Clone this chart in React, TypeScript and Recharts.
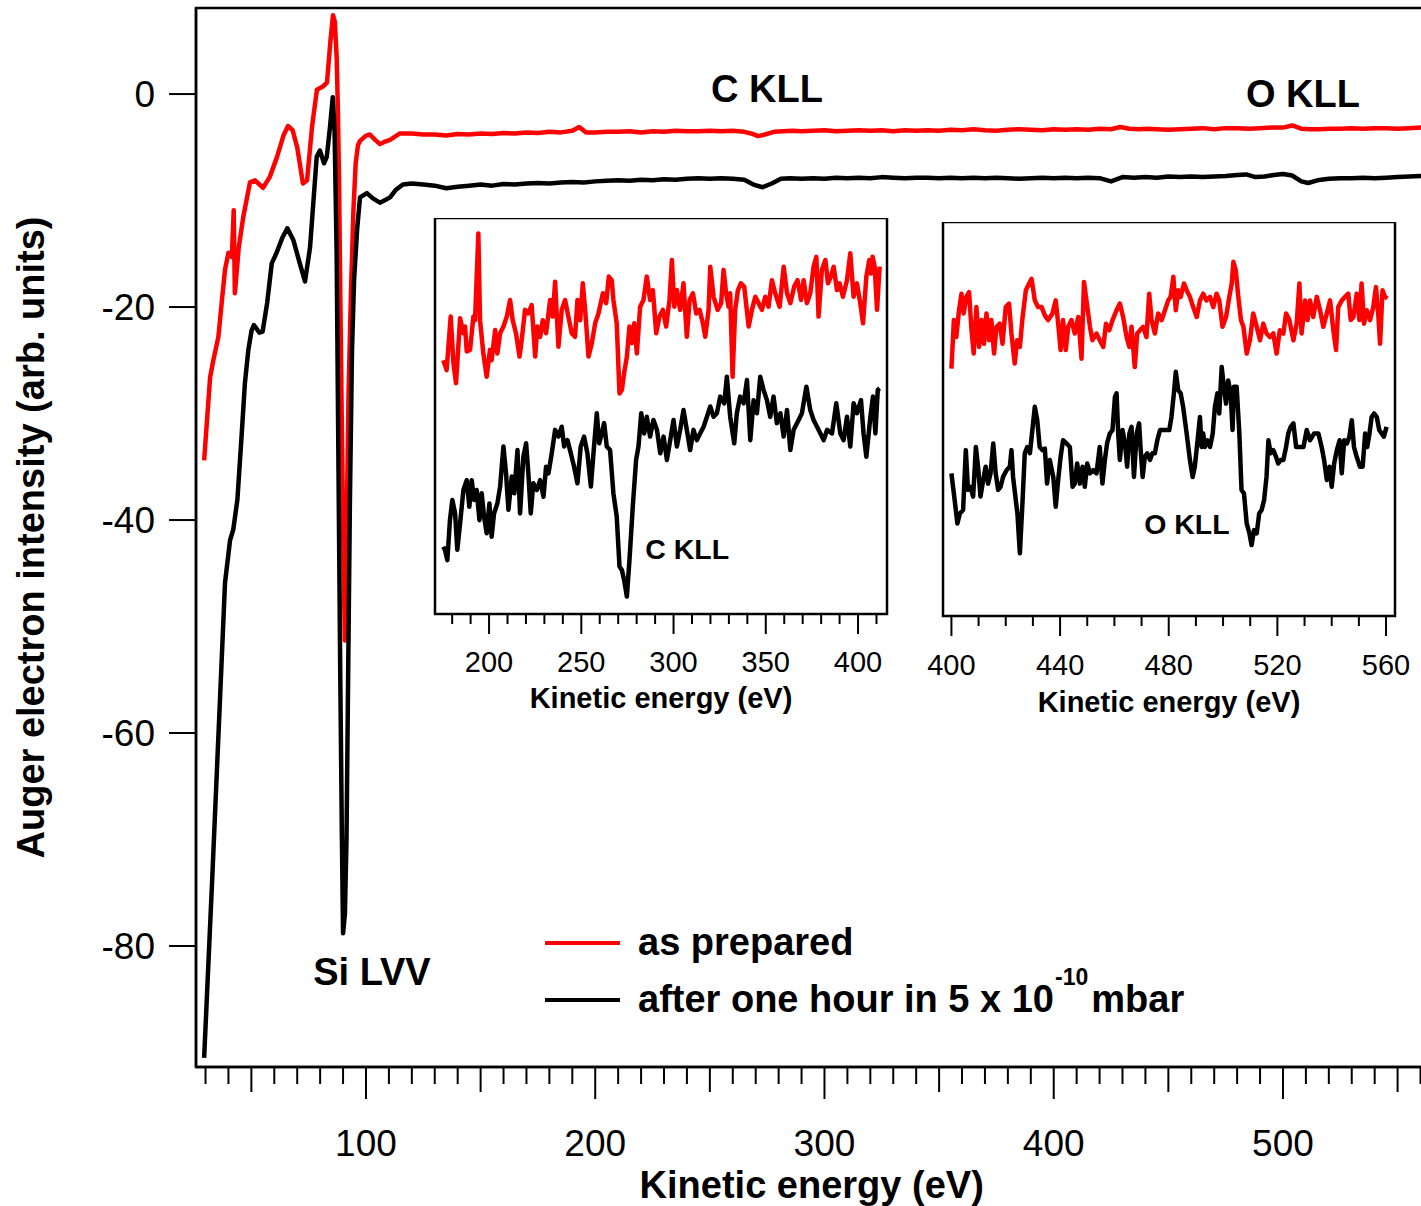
import { LineChart, Line, XAxis, YAxis, ReferenceArea, ReferenceDot, Legend } from 'recharts'

const FONT = '"Liberation Sans", Arial, Helvetica, sans-serif'
const RED = '#ff0000'
const BLACK = '#000000'

// [kinetic energy (eV), intensity (arb. units)]
const siPrepared = [
  [29.4, -34.4], [32.0, -26.6], [33.4, -25.0], [35.6, -22.8], [37.2, -19.3], [38.5, -16.5], [40.0, -14.9],
  [41.5, -15.3], [42.3, -10.9], [42.8, -18.7], [44.5, -14.4], [46.5, -11.5], [49.4, -8.3], [51.6, -8.1],
  [55.1, -8.8], [58.0, -7.8], [61.2, -5.9], [64.0, -3.9], [66.0, -3.0], [68.0, -3.4], [70.0, -5.0],
  [72.5, -8.4], [74.3, -8.1], [76.5, -3.0], [78.6, 0.4], [81.2, 0.7], [83.0, 1.1], [84.5, 5.0], [85.6, 7.4],
  [86.4, 6.8], [87.2, 3.5], [87.8, -2], [88.3, -9], [88.8, -19], [89.4, -30], [90.1, -42], [90.8, -51.3],
  [91.5, -42], [92.4, -28], [93.4, -19], [94.5, -11], [95.5, -6.5], [96.5, -4.8], [97.4, -4.4], [100, -3.9],
  [101.7, -3.8], [104, -4.3], [106.1, -4.7], [108, -4.5], [110.5, -4.3], [114.8, -3.7], [120, -3.7], [125, -3.8],
]
const plateauPrepared = [
  [130, -3.8], [135, -3.9], [140, -3.75], [145, -3.8], [150, -3.7], [155, -3.75], [160, -3.65], [165, -3.7],
  [170, -3.6], [175, -3.65], [180, -3.55], [185, -3.6], [190, -3.45], [193, -3.1], [196, -3.6], [200, -3.6],
  [205, -3.55], [210, -3.55], [215, -3.5], [220, -3.6], [225, -3.5], [230, -3.55], [235, -3.45], [240, -3.5],
  [245, -3.5], [250, -3.45], [255, -3.5], [260, -3.45], [265, -3.55], [268, -3.7], [271, -3.95], [274, -3.8],
  [278, -3.55], [282, -3.5], [286, -3.45], [290, -3.5], [295, -3.45], [300, -3.4], [305, -3.5], [310, -3.45],
  [315, -3.4], [320, -3.45], [325, -3.4], [330, -3.5], [335, -3.4], [340, -3.45], [345, -3.4], [350, -3.45],
  [355, -3.35], [360, -3.4], [365, -3.3], [370, -3.4], [375, -3.45], [380, -3.35], [385, -3.3], [390, -3.35],
  [395, -3.4], [400, -3.3], [405, -3.35], [410, -3.3], [415, -3.35], [420, -3.25], [425, -3.3], [429, -3.1],
  [433, -3.25], [437, -3.3], [441, -3.25], [445, -3.3], [450, -3.35], [455, -3.3], [460, -3.25], [465, -3.2],
  [470, -3.3], [475, -3.2], [480, -3.2], [485, -3.25], [490, -3.2], [495, -3.15], [500, -3.15], [504, -2.95],
  [508, -3.25], [512, -3.3], [516, -3.3], [520, -3.25], [525, -3.25], [530, -3.2], [535, -3.25], [540, -3.2],
  [545, -3.2], [550, -3.25], [555, -3.2], [560, -3.15], [565, -3.2],
]

const siExposed = [
  [29.4, -90.5], [32.9, -73.8], [36.3, -56.9], [38.5, -45.9], [40.7, -41.9], [42.1, -40.9], [43.9, -38.1],
  [45.8, -31.9], [47.2, -27.1], [48.7, -24.0], [50.1, -22.2], [51.1, -21.7], [53.5, -22.4], [54.9, -22.3],
  [56.9, -19.6], [58.9, -15.9], [61.0, -14.9], [63.5, -13.5], [65.7, -12.6], [68.3, -13.7], [71.0, -15.8],
  [73.4, -17.6], [75.6, -14.4], [78.5, -5.9], [79.9, -5.3], [81.7, -6.5], [82.9, -5.9], [84.3, -3.1],
  [85.5, -0.3], [86.3, -3.5], [87.2, -15], [88.0, -35], [88.8, -55], [89.5, -70], [90.0, -78.8], [90.8, -77],
  [91.5, -70], [92.1, -57], [93.0, -38], [93.9, -24], [94.8, -17.5], [96.1, -12.8], [97.4, -9.7], [100.4, -9.3],
  [103, -9.8], [106.1, -10.2], [108, -10.0], [110.5, -9.7], [113, -9.0], [116.1, -8.5], [120, -8.4], [125, -8.5],
]
const plateauExposed = [
  [130, -8.6], [135, -8.85], [140, -8.7], [145, -8.6], [150, -8.5], [155, -8.6], [160, -8.45], [165, -8.5],
  [170, -8.4], [175, -8.35], [180, -8.4], [185, -8.3], [190, -8.25], [195, -8.3], [200, -8.2], [205, -8.15],
  [210, -8.1], [215, -8.15], [220, -8.05], [225, -8.1], [230, -8.0], [235, -8.05], [240, -7.95], [245, -7.9],
  [250, -7.95], [255, -7.9], [260, -7.95], [265, -8.05], [269, -8.5], [273, -8.75], [277, -8.4], [281, -7.95],
  [285, -7.9], [290, -7.95], [295, -7.9], [300, -7.95], [305, -7.85], [310, -7.9], [315, -7.85], [320, -7.9],
  [325, -7.8], [330, -7.85], [335, -7.9], [340, -7.85], [345, -7.85], [350, -7.9], [355, -7.85], [360, -7.9],
  [365, -7.85], [370, -7.9], [375, -7.85], [380, -7.9], [385, -7.95], [390, -7.9], [395, -7.85], [400, -7.9],
  [405, -7.85], [410, -7.9], [415, -7.85], [420, -7.9], [425, -8.2], [430, -7.8], [435, -7.85], [440, -7.8],
  [445, -7.85], [450, -7.75], [455, -7.8], [460, -7.75], [465, -7.8], [470, -7.75], [475, -7.7], [480, -7.6],
  [484, -7.55], [488, -7.8], [492, -7.75], [496, -7.6], [500, -7.5], [504, -7.65], [508, -8.2], [511, -8.35],
  [515, -8.1], [520, -7.95], [525, -7.9], [530, -7.9], [535, -7.85], [540, -7.9], [545, -7.85], [550, -7.8],
  [555, -7.75], [560, -7.7], [565, -7.75],
]

// insets: intensity rescaled to 0..100 of the inset box
const cPrepared = [
  [175.2, 64.1], [177.0, 61.6], [179.2, 75.1], [180.7, 63.3], [182.1, 58.3], [184.3, 74.7], [186.1, 70.9], [187.0, 72.6],
  [187.9, 66.3], [189.7, 66.7], [191.5, 75.1], [192.4, 74.2], [194.2, 96.1], [195.1, 74.2], [196.9, 65.8], [198.7, 59.9],
  [200.5, 66.7], [201.4, 64.1], [203.3, 71.7], [204.5, 65.8], [206.0, 70.9], [207.8, 72.6], [209.6, 75.1], [211.4, 79.3],
  [212.8, 74.2], [214.6, 70.9], [216.5, 65.0], [217.7, 69.2], [219.5, 76.8], [221.3, 75.9], [223.1, 78.0], [225.0, 65.0],
  [226.2, 72.6], [227.7, 70.0], [229.1, 74.2], [230.9, 70.9], [233.1, 79.3], [234.5, 75.1], [235.8, 83.9], [237.6, 67.5],
  [239.4, 76.8], [241.2, 79.3], [243.0, 75.1], [244.8, 70.9], [246.6, 70.0], [247.9, 79.3], [249.4, 74.2], [250.8, 83.5],
  [252.1, 76.8], [253.9, 65.0], [255.7, 68.4], [257.5, 73.4], [259.3, 75.9], [261.7, 81.0], [263.5, 78.5], [264.9, 85.2],
  [266.5, 84.3], [267.4, 79.3], [269.2, 73.4], [270.7, 55.7], [272.0, 56.6], [273.2, 60.8], [274.7, 65.0], [276.1, 72.6],
  [277.4, 68.4], [278.7, 73.4], [280.1, 65.8], [281.9, 77.6], [283.7, 79.3], [285.5, 85.2], [287.3, 79.3], [288.8, 81.8],
  [290.6, 70.9], [292.4, 75.1], [294.2, 76.8], [296.0, 72.6], [297.8, 79.3], [299.1, 89.4], [300.4, 77.6], [301.8, 81.8],
  [303.6, 76.8], [305.4, 83.5], [307.2, 70.0], [308.7, 79.3], [310.5, 81.0], [312.3, 75.9], [314.1, 76.8], [315.9, 73.4],
  [317.2, 70.0], [319.0, 76.8], [319.9, 87.7], [321.7, 80.1], [323.9, 76.8], [325.8, 78.5], [327.1, 86.9], [328.5, 81.0],
  [329.8, 77.6], [330.7, 81.0], [332.0, 59.9], [333.4, 76.8], [334.9, 81.8], [336.5, 83.5], [338.3, 82.7], [340.7, 72.6],
  [342.5, 76.8], [344.3, 80.1], [346.1, 78.5], [347.9, 76.8], [349.7, 80.1], [351.5, 77.6], [353.3, 84.3], [355.1, 81.0],
  [357.5, 77.6], [359.7, 87.7], [361.5, 81.0], [363.3, 78.5], [365.4, 82.7], [367.2, 84.3], [369.1, 79.3], [370.5, 84.3],
  [372.3, 78.5], [374.1, 81.0], [375.9, 87.7], [377.4, 90.2], [378.6, 75.1], [380.4, 86.9], [382.3, 89.4], [383.7, 83.5],
  [385.3, 85.2], [386.8, 87.7], [388.6, 81.8], [390.0, 83.5], [391.8, 80.1], [394.0, 84.3], [395.8, 91.1], [397.6, 80.1],
  [399.4, 83.5], [401.2, 78.5], [402.7, 73.4], [404.5, 85.2], [406.1, 89.4], [407.0, 86.0], [407.9, 90.2], [409.0, 87.7],
  [410.3, 76.8], [411.7, 87.7],
]
const cExposed = [
  [175.2, 17.0], [176.1, 16.2], [177.4, 13.6], [178.8, 23.7], [180.1, 28.8], [181.6, 25.4], [182.8, 16.2], [184.3, 22.9],
  [186.1, 31.3], [187.9, 33.8], [189.3, 27.1], [190.6, 33.8], [191.9, 28.8], [193.3, 31.3], [194.8, 23.7], [196.0, 30.5],
  [197.3, 24.6], [198.7, 20.4], [200.2, 27.9], [201.4, 19.5], [202.7, 25.4], [204.5, 27.9], [206.0, 32.2], [207.8, 42.3],
  [209.2, 35.5], [210.5, 26.3], [212.3, 34.7], [213.7, 30.5], [215.4, 41.4], [216.8, 25.4], [218.6, 39.7], [220.1, 43.1],
  [221.3, 35.5], [222.6, 25.4], [224.0, 33.0], [225.9, 31.3], [227.7, 33.8], [229.5, 29.6], [230.9, 37.2], [232.2, 35.5],
  [234.0, 40.6], [235.8, 46.5], [237.6, 44.8], [239.4, 47.3], [240.7, 42.3], [242.5, 43.9], [244.3, 40.6], [246.1, 37.2],
  [247.9, 33.0], [249.7, 42.3], [251.5, 44.8], [253.3, 40.6], [255.2, 32.2], [256.6, 40.6], [258.4, 50.7], [259.7, 43.1],
  [261.1, 45.6], [262.4, 48.2], [263.8, 42.3], [265.6, 41.4], [267.4, 30.5], [269.2, 24.6], [270.7, 12.0], [272.0, 11.1],
  [273.2, 8.6], [274.7, 4.4], [276.1, 13.6], [277.9, 27.1], [279.7, 38.9], [281.0, 42.3], [282.5, 50.7], [284.1, 45.6],
  [285.5, 49.8], [287.3, 44.8], [289.1, 49.0], [291.0, 46.5], [292.8, 40.6], [294.6, 44.8], [296.4, 38.9], [298.2, 43.9],
  [300.0, 49.0], [301.8, 42.3], [303.6, 46.5], [305.4, 51.5], [307.2, 46.5], [309.0, 41.4], [310.8, 46.5], [312.6, 43.9],
  [314.4, 45.6], [316.3, 47.3], [318.1, 49.8], [319.9, 52.4], [321.7, 49.8], [323.5, 50.7], [325.3, 54.9], [327.5, 53.2],
  [328.9, 59.9], [330.7, 49.8], [332.9, 43.1], [334.3, 50.7], [336.1, 54.9], [338.0, 53.2], [339.8, 59.1], [341.6, 43.9],
  [343.4, 54.0], [345.2, 50.7], [347.0, 59.9], [348.8, 56.6], [350.6, 54.0], [352.4, 49.8], [354.2, 54.9], [356.0, 48.2],
  [357.9, 50.7], [359.7, 44.8], [361.5, 51.5], [363.3, 41.4], [365.1, 46.5], [367.8, 49.0], [369.6, 50.7], [372.0, 57.4],
  [374.1, 51.5], [375.9, 49.0], [378.6, 46.5], [381.4, 43.9], [383.2, 46.5], [385.9, 45.6], [388.2, 53.2], [390.4, 45.6],
  [392.2, 43.9], [394.0, 49.8], [395.8, 42.3], [397.6, 53.2], [399.4, 50.7], [401.6, 54.0], [403.0, 45.6], [404.5, 39.7],
  [406.7, 49.8], [408.1, 54.9], [409.4, 45.6], [410.7, 56.6], [411.7, 57.0],
]

const oPrepared = [
  [400.0, 62.8], [400.9, 75.1], [401.8, 70.8], [402.8, 77.6], [403.7, 81.8], [404.5, 76.8], [405.5, 81.0], [406.5, 82.2],
  [407.4, 72.5], [408.2, 66.6], [409.2, 78.4], [410.2, 68.3], [411.1, 75.1], [412.0, 69.1], [412.9, 76.8], [413.9, 70.0],
  [414.7, 75.1], [415.7, 66.6], [416.6, 73.4], [417.8, 74.2], [418.8, 69.1], [420.0, 78.4], [421.2, 79.3], [422.1, 71.7],
  [423.3, 64.1], [424.2, 70.0], [425.2, 68.3], [426.2, 75.9], [427.4, 82.7], [428.6, 84.4], [429.5, 85.6], [430.7, 80.1],
  [431.9, 78.4], [433.2, 78.4], [434.4, 76.3], [435.6, 75.1], [437.2, 76.8], [438.4, 80.1], [439.3, 74.2], [440.2, 67.5],
  [441.1, 75.1], [442.1, 67.5], [443.0, 73.4], [444.2, 75.1], [445.4, 71.7], [446.7, 75.9], [447.9, 65.3], [448.8, 84.8],
  [449.7, 80.1], [451.0, 73.4], [451.9, 70.0], [453.4, 71.7], [454.6, 70.0], [455.9, 68.3], [456.9, 74.2], [458.1, 72.5],
  [459.3, 75.1], [460.8, 77.6], [462.0, 79.3], [463.2, 75.9], [464.5, 70.8], [465.5, 68.3], [466.3, 73.4], [467.5, 63.2],
  [468.4, 71.7], [469.4, 72.5], [470.6, 73.4], [471.8, 70.8], [472.8, 81.8], [473.7, 75.1], [474.9, 71.7], [476.1, 76.8],
  [477.4, 75.1], [478.6, 77.6], [479.8, 80.1], [480.7, 81.0], [481.7, 86.1], [482.6, 77.6], [483.5, 82.7], [484.4, 81.0],
  [485.6, 84.4], [486.6, 82.7], [487.8, 81.0], [489.0, 78.4], [490.3, 75.9], [491.5, 80.1], [492.7, 81.8], [493.9, 80.1],
  [495.2, 81.0], [496.4, 78.4], [497.6, 81.8], [498.6, 80.1], [499.8, 73.4], [501.1, 75.9], [502.3, 81.0], [503.2, 84.4],
  [503.8, 89.9], [504.7, 87.7], [505.6, 81.0], [506.6, 75.1], [507.5, 73.4], [508.7, 66.6], [509.9, 70.0], [511.1, 76.8],
  [512.4, 73.4], [513.6, 70.0], [514.8, 74.2], [516.0, 71.7], [517.3, 70.8], [518.5, 71.7], [519.7, 66.6], [520.9, 72.5],
  [522.2, 71.7], [523.2, 76.8], [524.4, 75.1], [525.9, 70.0], [527.1, 74.2], [528.1, 84.4], [528.9, 71.7], [530.2, 80.1],
  [531.1, 75.1], [532.0, 80.1], [533.2, 75.9], [534.5, 81.0], [535.7, 77.6], [536.9, 73.4], [538.2, 76.8], [539.4, 80.1],
  [540.6, 72.5], [541.6, 67.5], [542.4, 78.4], [543.7, 80.1], [544.9, 81.0], [546.1, 81.8], [547.0, 75.1], [548.0, 75.9],
  [549.2, 81.8], [550.2, 75.1], [551.0, 84.4], [551.9, 74.2], [552.9, 77.6], [554.1, 75.1], [555.3, 78.4], [556.3, 83.5],
  [557.2, 75.9], [557.8, 69.1], [558.7, 82.7], [559.6, 81.0], [560.5, 80.6],
]
const oExposed = [
  [400.0, 36.2], [401.2, 29.4], [402.2, 23.5], [403.1, 26.0], [404.3, 26.9], [405.3, 42.1], [406.1, 32.0], [407.0, 32.8],
  [408.0, 30.3], [409.0, 42.9], [409.8, 37.9], [410.7, 30.3], [411.7, 34.5], [412.6, 37.9], [413.5, 33.6], [414.4, 36.2],
  [415.4, 43.8], [416.3, 36.2], [417.2, 32.0], [418.1, 32.8], [419.0, 35.3], [420.3, 37.0], [421.5, 37.9], [422.1, 42.1],
  [422.7, 35.3], [423.7, 29.4], [424.3, 26.0], [425.2, 15.9], [426.2, 29.4], [427.0, 41.3], [427.9, 42.9], [428.9, 41.3],
  [429.8, 47.2], [430.7, 53.1], [431.6, 49.7], [432.5, 42.9], [433.5, 42.1], [434.4, 42.5], [435.2, 33.6], [436.2, 39.6],
  [437.5, 35.3], [438.4, 27.7], [439.3, 34.5], [440.2, 40.4], [441.1, 44.6], [442.4, 43.8], [443.6, 42.9], [444.6, 32.8],
  [445.4, 33.6], [446.3, 38.7], [447.3, 33.6], [448.3, 37.9], [449.1, 32.8], [450.0, 38.7], [451.0, 36.2], [452.2, 37.0],
  [453.4, 36.2], [454.6, 42.9], [455.6, 33.6], [456.5, 39.6], [457.3, 43.8], [458.3, 46.3], [459.3, 47.2], [460.2, 55.6],
  [460.8, 56.5], [461.4, 46.3], [462.0, 39.6], [463.0, 47.2], [463.9, 43.8], [464.7, 37.9], [465.5, 46.3], [466.3, 48.0],
  [467.2, 35.3], [468.2, 46.3], [469.1, 48.9], [469.6, 42.9], [470.4, 35.3], [471.2, 40.4], [472.1, 41.3], [473.1, 39.6],
  [474.0, 41.3], [474.9, 41.3], [475.8, 44.6], [476.8, 47.2], [477.7, 47.2], [479.0, 47.2], [480.2, 47.2], [481.0, 50.5],
  [481.9, 56.5], [482.6, 62.0], [483.5, 57.3], [484.4, 56.5], [485.3, 53.1], [486.6, 46.3], [487.8, 39.6], [488.8, 35.3],
  [489.6, 37.9], [490.5, 43.8], [491.5, 50.5], [492.1, 42.9], [492.7, 46.3], [493.3, 42.9], [494.2, 44.6], [495.2, 42.9],
  [496.2, 46.3], [497.0, 53.1], [497.9, 56.5], [498.6, 51.4], [499.5, 63.2], [500.3, 58.2], [501.1, 53.9], [501.9, 59.8],
  [502.8, 56.5], [503.5, 47.2], [504.0, 58.2], [505.0, 58.2], [506.0, 46.3], [506.8, 32.0], [507.7, 31.1], [508.7, 23.5],
  [509.7, 21.0], [510.5, 18.0], [511.4, 21.8], [512.4, 21.0], [513.3, 26.0], [514.2, 26.9], [515.1, 29.4], [516.0, 35.3],
  [516.7, 44.6], [517.5, 41.3], [518.5, 42.1], [519.5, 40.4], [520.3, 38.7], [521.2, 39.6], [522.2, 39.6], [523.2, 42.9],
  [524.0, 46.3], [524.9, 48.0], [525.9, 48.9], [526.9, 42.9], [528.1, 42.9], [529.6, 42.9], [530.8, 47.2], [532.0, 44.6],
  [533.5, 46.3], [535.1, 46.3], [536.3, 42.9], [537.2, 39.6], [538.2, 34.5], [539.2, 37.9], [540.0, 32.8], [540.9, 38.7],
  [541.9, 42.1], [542.9, 44.6], [543.7, 36.2], [544.6, 44.6], [545.6, 43.8], [546.5, 45.5], [547.4, 49.7], [548.2, 42.9],
  [549.2, 40.4], [550.4, 37.9], [551.4, 37.9], [552.3, 46.3], [553.1, 42.9], [553.9, 46.3], [554.7, 50.5], [555.6, 51.4],
  [556.6, 50.5], [557.5, 47.2], [558.4, 46.3], [559.2, 45.5], [560.2, 48.0],
]

const mainXTicks = [
  30, 40, 50, 60, 70, 80, 90, 100, 110, 120, 130, 140, 150, 160, 170, 180, 190, 200, 210, 220, 230, 240, 250,
  260, 270, 280, 290, 300, 310, 320, 330, 340, 350, 360, 370, 380, 390, 400, 410, 420, 430, 440, 450, 460, 470,
  480, 490, 500, 510, 520, 530, 540, 550, 560,
]
const mainYTicks = [0, -20, -40, -60, -80]
const cTicks = [180, 190, 200, 210, 220, 230, 240, 250, 260, 270, 280, 290, 300, 310, 320, 330, 340, 350, 360, 370, 380, 390, 400, 410]
const oTicks = [400, 410, 420, 430, 440, 450, 460, 470, 480, 490, 500, 510, 520, 530, 540, 550, 560]

const seriesNames = ['as prepared', 'after one hour in 5 x 10^-10 mbar']

const toRows = (pairs: number[][]) => pairs.map(([ev, y]) => ({ ev, y }))
const mainPrepared = toRows([...siPrepared, ...plateauPrepared])
const mainExposed = toRows([...siExposed, ...plateauExposed])

const makeTick = (lengthOf: (v: number) => number, labelled: (v: number) => boolean, fontSize: number, labelDy: number) =>
  (props: any) => {
    const { x, y, payload } = props
    const v = payload.value
    return (
      <g>
        <line x1={x} x2={x} y1={y} y2={y + lengthOf(v)} stroke="#000" strokeWidth={2} />
        {labelled(v) && (
          <text x={x} y={y + labelDy} textAnchor="middle" fontSize={fontSize} fontFamily={FONT} fill="#000">
            {v}
          </text>
        )}
      </g>
    )
  }

const MainTick = makeTick(v => (v % 100 === 0 ? 32 : v % 50 === 0 ? 25 : 17), v => v % 100 === 0, 37, 89)
const CTick = makeTick(v => (v % 50 === 0 ? 20 : 10), v => v % 50 === 0, 29, 58)
const OTick = makeTick(v => (v % 40 === 0 ? 20 : 10), v => v % 40 === 0, 29, 59)

const LegendBox = ({ payload }: any) => {
  const items = [...(payload ?? [])].sort(
    (a: any, b: any) => seriesNames.indexOf(a.value) - seriesNames.indexOf(b.value),
  )
  return (
    <div style={{ fontFamily: FONT, fontWeight: 700, fontSize: 38, color: '#000', lineHeight: '57px' }}>
      {items.map((entry: any) => {
        const [base, rest] = String(entry.value).split('^')
        const [sup, ...tail] = rest ? rest.split(' ') : []
        return (
          <div key={entry.value} style={{ display: 'flex', alignItems: 'center', height: 57, whiteSpace: 'nowrap' }}>
            <svg width={93} height={8} style={{ flex: 'none' }}>
              <line x1={0} x2={75} y1={4} y2={4} stroke={entry.color} strokeWidth={4} />
            </svg>
            <span>
              {base}
              {sup && (
                <span style={{ fontSize: 23, lineHeight: 1, position: 'relative', top: -27, margin: '0 3px 0 1px' }}>{sup}</span>
              )}
              {tail.join(' ')}
            </span>
          </div>
        )
      })}
    </div>
  )
}

const note = (value: string, fontSize: number) => ({
  value,
  position: 'center' as const,
  fill: '#000',
  fontSize,
  fontWeight: 'bold',
  fontFamily: FONT,
})

const axisTitle = (value: string, fontSize: number, offset: number) => ({
  value,
  position: 'insideBottom' as const,
  offset,
  fill: '#000',
  fontSize,
  fontWeight: 'bold',
  fontFamily: FONT,
})

const MAIN_X: [number, number] = [25.85, 563]
const MAIN_Y: [number, number] = [-91.36, 8.08]
const C_X: [number, number] = [170.7, 415.7]
const O_X: [number, number] = [396.9, 563.3]

// side room so that the outermost tick labels are not cut by the inset's svg
const PAD = 40

const Inset = ({ prepared, exposed, domain, ticks, tick, axisHeight, title, label }: any) => (
  <LineChart width={452 + 2 * PAD} height={500} margin={{ top: 0, right: PAD, bottom: 0, left: PAD }}>
    <XAxis
      dataKey="ev"
      type="number"
      domain={domain}
      allowDataOverflow
      ticks={ticks}
      interval={0}
      tick={tick}
      tickLine={false}
      tickSize={0}
      tickMargin={0}
      axisLine={false}
      height={axisHeight}
      label={axisTitle(title, 29, 10)}
    />
    <YAxis hide type="number" domain={[0, 100]} allowDataOverflow />
    <ReferenceArea x1={domain[0]} x2={domain[1]} y1={0} y2={100} fill="none" stroke="#000" strokeWidth={2.5} />
    <Line data={toRows(prepared)} dataKey="y" stroke={RED} strokeWidth={4.5} dot={false} isAnimationActive={false} strokeLinejoin="round" />
    <Line data={toRows(exposed)} dataKey="y" stroke={BLACK} strokeWidth={4.5} dot={false} isAnimationActive={false} strokeLinejoin="round" />
    <ReferenceDot x={label.ev} y={label.y} r={0} stroke="none" fill="none" label={note(label.text, 28.5)} />
  </LineChart>
)

export default function App() {
  return (
    <div style={{ position: 'absolute', left: 0, top: 0, width: 1421, height: 1206, overflow: 'hidden', background: '#fff' }}>
      <div style={{ position: 'absolute', left: 0, top: 0 }}>
        <LineChart width={1430} height={1206} margin={{ top: 8, right: 2.6, bottom: 0, left: 0 }}>
          <XAxis
            dataKey="ev"
            type="number"
            domain={MAIN_X}
            allowDataOverflow
            ticks={mainXTicks}
            interval={0}
            tick={MainTick}
            tickLine={false}
            tickSize={0}
            tickMargin={0}
            axisLine={{ stroke: '#000', strokeWidth: 2.5 }}
            height={139}
            label={axisTitle('Kinetic energy (eV)', 38, 8)}
          />
          <YAxis
            type="number"
            domain={MAIN_Y}
            allowDataOverflow
            ticks={mainYTicks}
            interval={0}
            width={196}
            tickSize={27}
            tickMargin={14}
            tickLine={{ stroke: '#000', strokeWidth: 2 }}
            axisLine={{ stroke: '#000', strokeWidth: 2.5 }}
            tick={{ fill: '#000', fontSize: 37, fontFamily: FONT }}
            label={{
              value: 'Auger electron intensity (arb. units)',
              angle: -90,
              position: 'insideLeft',
              offset: 31,
              fill: '#000',
              fontSize: 38,
              fontWeight: 'bold',
              fontFamily: FONT,
              style: { textAnchor: 'middle' },
            }}
          />
          <ReferenceArea x1={MAIN_X[0]} x2={MAIN_X[1]} y1={MAIN_Y[0]} y2={MAIN_Y[1]} fill="none" stroke="#000" strokeWidth={2.5} />
          <Line name={seriesNames[0]} data={mainPrepared} dataKey="y" stroke={RED} strokeWidth={4.5} dot={false} isAnimationActive={false} strokeLinejoin="round" />
          <Line name={seriesNames[1]} data={mainExposed} dataKey="y" stroke={BLACK} strokeWidth={4.5} dot={false} isAnimationActive={false} strokeLinejoin="round" />
          <ReferenceDot x={274.9} y={0.56} r={0} stroke="none" fill="none" label={note('C KLL', 38)} />
          <ReferenceDot x={508.7} y={0.09} r={0} stroke="none" fill="none" label={note('O KLL', 38)} />
          <ReferenceDot x={102.6} y={-82.35} r={0} stroke="none" fill="none" label={note('Si LVV', 38)} />
          <Legend
            layout="horizontal"
            verticalAlign="middle"
            align="center"
            content={LegendBox}
            wrapperStyle={{ left: 545, top: 914, width: 'auto' }}
          />
        </LineChart>
      </div>
      <div style={{ position: 'absolute', left: 435 - PAD, top: 218 }}>
        <Inset
          prepared={cPrepared}
          exposed={cExposed}
          domain={C_X}
          ticks={cTicks}
          tick={CTick}
          axisHeight={104}
          title="Kinetic energy (eV)"
          label={{ ev: 307.4, y: 16.4, text: 'C KLL' }}
        />
      </div>
      <div style={{ position: 'absolute', left: 943 - PAD, top: 222 }}>
        <Inset
          prepared={oPrepared}
          exposed={oExposed}
          domain={O_X}
          ticks={oTicks}
          tick={OTick}
          axisHeight={106}
          title="Kinetic energy (eV)"
          label={{ ev: 486.7, y: 23.3, text: 'O KLL' }}
        />
      </div>
    </div>
  )
}
